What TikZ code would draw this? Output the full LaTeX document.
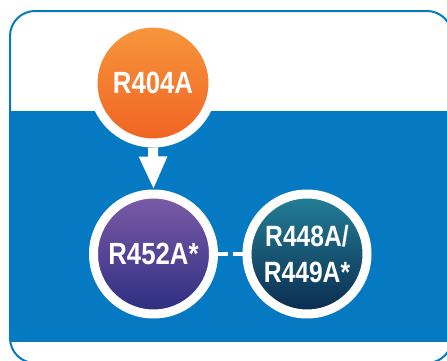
\documentclass[tikz,border=0pt]{standalone}
\usepackage{fontspec}
\usetikzlibrary{arrows.meta}
\newfontfamily\condfont[FakeStretch=0.84]{Liberation Sans}
\definecolor{bandblue}{RGB}{6,121,195}
\definecolor{orTop}{RGB}{247,152,60}
\definecolor{orBot}{RGB}{240,98,35}
\definecolor{puTop}{RGB}{124,92,168}
\definecolor{puBot}{RGB}{44,45,128}
\definecolor{teTop}{RGB}{36,128,152}
\definecolor{teBot}{RGB}{10,42,78}
\tikzset{
  refnode/.style={circle, draw=white, line width=6.75pt, minimum size=90pt,
    inner sep=0pt, text=white, align=center},
  reftext/.style={font=\condfont\bfseries\fontsize{23pt}{27.75pt}\selectfont},
  reftexttwo/.style={font=\condfont\bfseries\fontsize{22pt}{27.75pt}\selectfont},
  flowarrow/.style={white, line width=7.5pt, -{Triangle[width=19.5pt,length=24.75pt]}},
  altlink/.style={white, line width=3.2pt, dash pattern=on 7.5pt off 3.75pt}
}
\begin{document}
\begin{tikzpicture}[x=0.75pt, y=-0.75pt]
\useasboundingbox (0,0) rectangle (447,361);
\clip (0,0) rectangle (447,361);
\fill[white] (0,0) rectangle (447,361);
% blue band
\fill[bandblue] (10,111) rectangle (460,342);
% outer frame
\draw[bandblue, line width=1.5pt, rounded corners=18.75pt] (10,11) rectangle (452,363);
% circles
\node[refnode, reftext, top color=orTop, bottom color=orBot] (a) at (153,83) {R404A};
\node[refnode, reftext, top color=puTop, bottom color=puBot] (b) at (153.5,254) {R452A*};
\node[refnode, reftexttwo, top color=teTop, bottom color=teBot] (c) at (307,254) {R448A/\\[-0.5pt]R449A*};
% connectors
\draw[flowarrow] (a.south) -- (b.north);
\draw[altlink] (b.east) -- (c.west);
\end{tikzpicture}
\end{document}
